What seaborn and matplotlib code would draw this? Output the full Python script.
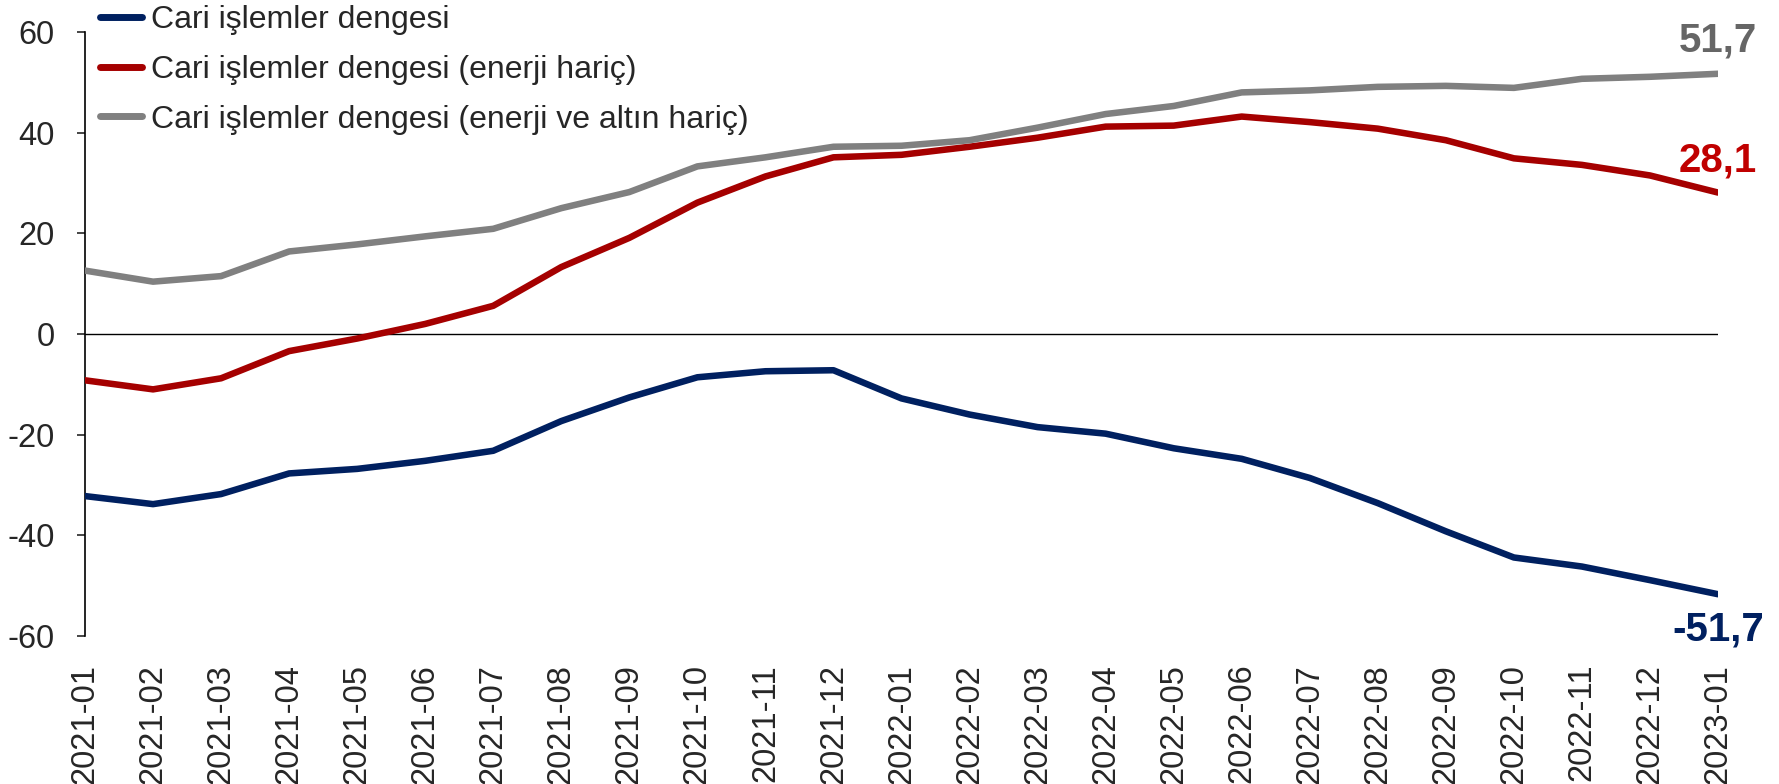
import matplotlib

matplotlib.use("Agg")
import matplotlib.pyplot as plt
import pandas as pd
import seaborn as sns

months = [
    "2021-01", "2021-02", "2021-03", "2021-04", "2021-05", "2021-06",
    "2021-07", "2021-08", "2021-09", "2021-10", "2021-11", "2021-12",
    "2022-01", "2022-02", "2022-03", "2022-04", "2022-05", "2022-06",
    "2022-07", "2022-08", "2022-09", "2022-10", "2022-11", "2022-12",
    "2023-01",
]
cari = [
    -32.2, -33.8, -31.8, -27.7, -26.8, -25.2, -23.2, -17.3, -12.6, -8.6,
    -7.4, -7.2, -12.8, -16.0, -18.5, -19.8, -22.7, -24.8, -28.6, -33.6,
    -39.2, -44.4, -46.2, -48.9, -51.7,
]
enerji_haric = [
    -9.2, -11.0, -8.8, -3.4, -0.9, 2.0, 5.6, 13.3, 19.1, 26.1,
    31.3, 35.1, 35.6, 37.2, 39.0, 41.2, 41.4, 43.2, 42.1, 40.8,
    38.5, 34.9, 33.6, 31.5, 28.1,
]
enerji_altin_haric = [
    12.6, 10.4, 11.5, 16.4, 17.8, 19.4, 20.9, 25.0, 28.2, 33.3,
    35.1, 37.2, 37.4, 38.5, 41.0, 43.7, 45.3, 48.0, 48.4, 49.1,
    49.3, 48.9, 50.7, 51.1, 51.7,
]
series_names = [
    "Cari işlemler dengesi",
    "Cari işlemler dengesi (enerji hariç)",
    "Cari işlemler dengesi (enerji ve altın hariç)",
]
line_colors = ["#002060", "#A50000", "#808080"]
label_colors = ["#002060", "#C00000", "#666666"]
label_offsets = [-35, 32, 33]

sns.set_style("white")
plt.rcParams["font.family"] = ["Liberation Sans", "DejaVu Sans"]
plt.rcParams["axes.unicode_minus"] = False

rows = []
for name, vals in zip(series_names, [cari, enerji_haric, enerji_altin_haric]):
    for i, v in enumerate(vals):
        rows.append({"pos": i, "value": v, "series": name})
df = pd.DataFrame(rows)

fig = plt.figure(figsize=(17.79, 7.84), dpi=100)
ax = fig.add_axes([85 / 1779, 1 - 636 / 784, (1718 - 85) / 1779, (636 - 32) / 784])

ax.axhline(0, color="black", lw=1, zorder=1)
sns.lineplot(
    data=df, x="pos", y="value", hue="series", hue_order=series_names,
    palette=line_colors, linewidth=4.7, ax=ax, legend=False, zorder=3,
)

ax.set_xlim(0, len(months) - 1)
ax.set_ylim(-60, 60)
ax.set_yticks(range(-60, 61, 20))
ax.set_xticks(range(len(months)))
ax.set_xticklabels(months, rotation=90)
ax.tick_params(axis="x", length=0, pad=20, labelsize=23.5)
ax.tick_params(axis="y", length=6, width=1.2, pad=16, labelsize=23.5, left=True)
for side in ["top", "right", "bottom"]:
    ax.spines[side].set_visible(False)
ax.spines["left"].set_color("black")
ax.spines["left"].set_linewidth(1.2)
ax.set_xlabel("")
ax.set_ylabel("")

# end-of-line value labels
for vals, col, off in zip([cari, enerji_haric, enerji_altin_haric], label_colors, label_offsets):
    last = vals[-1]
    ax.annotate(
        f"{last:.1f}".replace(".", ","), xy=(len(vals) - 1, last),
        xytext=(0, off), textcoords="offset pixels", ha="center", va="center",
        fontsize=29, fontweight="bold", color=col, annotation_clip=False,
    )

handles = [plt.Line2D([], [], color=c, lw=5, solid_capstyle="round") for c in line_colors]
fig.legend(
    handles, series_names, loc="upper left", bbox_to_anchor=(100 / 1779, 1 - 5 / 784),
    frameon=False, fontsize=23, handlelength=1.3, handletextpad=0.3,
    labelspacing=0.62, borderpad=0, borderaxespad=0,
)

fig.savefig("out.png", dpi=100)
plt.close(fig)
